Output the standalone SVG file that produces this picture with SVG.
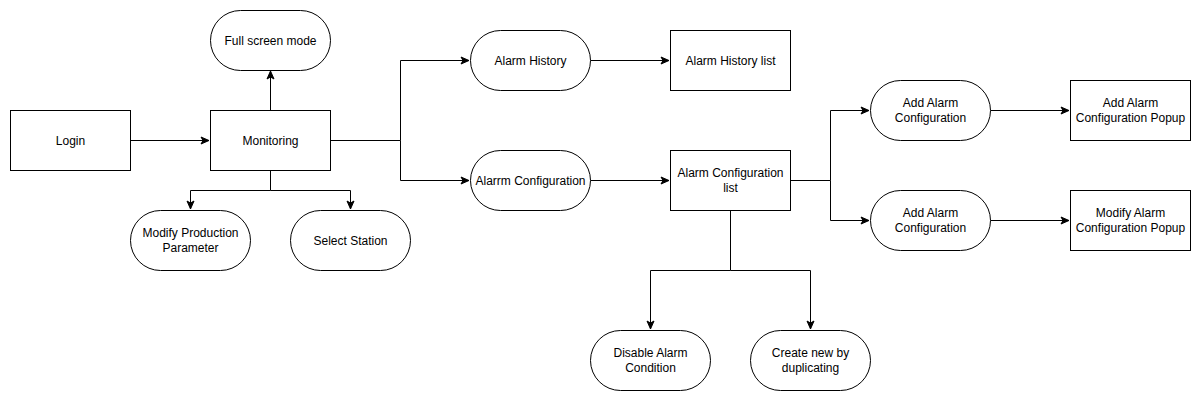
<svg xmlns="http://www.w3.org/2000/svg" width="1201" height="401" viewBox="0 0 1201 401">
<defs>
<marker id="arr" markerWidth="10" markerHeight="10" refX="9" refY="5" orient="auto" markerUnits="userSpaceOnUse">
<path d="M1,1.5 L9,5 L1,8.5 L3,5 Z" fill="#000" stroke="#000" stroke-width="1"/>
</marker>
<style>
.n{fill:#fff;stroke:#000;stroke-width:1}
.t{font-family:"Liberation Sans",Arial,Helvetica,sans-serif;font-size:12px;fill:#000;text-anchor:middle;dominant-baseline:central}
.c{fill:none;stroke:#000;stroke-width:1}
.a{marker-end:url(#arr)}
</style>
</defs>
<rect width="1201" height="401" fill="#fff"/>
<g id="connectors">
<path class="c a" d="M130.5,140.5 H209"/>
<path class="c a" d="M270.5,110.5 V71"/>
<path class="c" d="M270.5,170.5 V190.5 H190.5 M270.5,190.5 H350.5"/>
<path class="c a" d="M190.5,190.5 V209"/>
<path class="c a" d="M350.5,190.5 V209"/>
<path class="c" d="M330.5,140.5 H400.5 V60.5 M400.5,140.5 V180.5"/>
<path class="c a" d="M400.5,60.5 H469"/>
<path class="c a" d="M400.5,180.5 H469"/>
<path class="c a" d="M590.5,60.5 H669"/>
<path class="c a" d="M590.5,180.5 H669"/>
<path class="c" d="M790.5,180.5 H830.5 V110.5 M830.5,180.5 V220.5"/>
<path class="c a" d="M830.5,110.5 H869"/>
<path class="c a" d="M830.5,220.5 H869"/>
<path class="c a" d="M990.5,110.5 H1069"/>
<path class="c a" d="M990.5,220.5 H1069"/>
<path class="c" d="M730.5,210.5 V270.5 H650.5 M730.5,270.5 H810.5"/>
<path class="c a" d="M650.5,270.5 V329"/>
<path class="c a" d="M810.5,270.5 V329"/>
</g>
<g id="login"><rect class="n" x="10.5" y="110.5" width="120" height="60"/><text class="t" x="70.5" y="140.5">Login</text></g>
<g id="monitoring"><rect class="n" x="210.5" y="110.5" width="120" height="60"/><text class="t" x="270.5" y="140.5">Monitoring</text></g>
<g id="fullscreen"><rect class="n" x="210.5" y="10.5" width="120" height="60" rx="30"/><text class="t" x="270.5" y="40.5">Full screen mode</text></g>
<g id="modifyprod"><rect class="n" x="130.5" y="210.5" width="120" height="60" rx="30"/><text class="t" x="190.5" y="233">Modify Production</text><text class="t" x="190.5" y="248">Parameter</text></g>
<g id="selectstation"><rect class="n" x="290.5" y="210.5" width="120" height="60" rx="30"/><text class="t" x="350.5" y="240.5">Select Station</text></g>
<g id="alarmhistory"><rect class="n" x="470.5" y="30.5" width="120" height="60" rx="30"/><text class="t" x="530.5" y="60.5">Alarm History</text></g>
<g id="alarmhistorylist"><rect class="n" x="670.5" y="30.5" width="120" height="60"/><text class="t" x="730.5" y="60.5">Alarm History list</text></g>
<g id="alarmconfig"><rect class="n" x="470.5" y="150.5" width="120" height="60" rx="30"/><text class="t" x="530.5" y="180.5">Alarrm Configuration</text></g>
<g id="alarmconfiglist"><rect class="n" x="670.5" y="150.5" width="120" height="60"/><text class="t" x="730.5" y="173">Alarm Configuration</text><text class="t" x="730.5" y="188">list</text></g>
<g id="addalarm1"><rect class="n" x="870.5" y="80.5" width="120" height="60" rx="30"/><text class="t" x="930.5" y="103">Add Alarm</text><text class="t" x="930.5" y="118">Configuration</text></g>
<g id="addpopup"><rect class="n" x="1070.5" y="80.5" width="120" height="60"/><text class="t" x="1130.5" y="103">Add Alarm</text><text class="t" x="1130.5" y="118">Configuration Popup</text></g>
<g id="addalarm2"><rect class="n" x="870.5" y="190.5" width="120" height="60" rx="30"/><text class="t" x="930.5" y="213">Add Alarm</text><text class="t" x="930.5" y="228">Configuration</text></g>
<g id="modifypopup"><rect class="n" x="1070.5" y="190.5" width="120" height="60"/><text class="t" x="1130.5" y="213">Modify Alarm</text><text class="t" x="1130.5" y="228">Configuration Popup</text></g>
<g id="disable"><rect class="n" x="590.5" y="330.5" width="120" height="60" rx="30"/><text class="t" x="650.5" y="353">Disable Alarm</text><text class="t" x="650.5" y="368">Condition</text></g>
<g id="createnew"><rect class="n" x="750.5" y="330.5" width="120" height="60" rx="30"/><text class="t" x="810.5" y="353">Create new by</text><text class="t" x="810.5" y="368">duplicating</text></g>
</svg>
